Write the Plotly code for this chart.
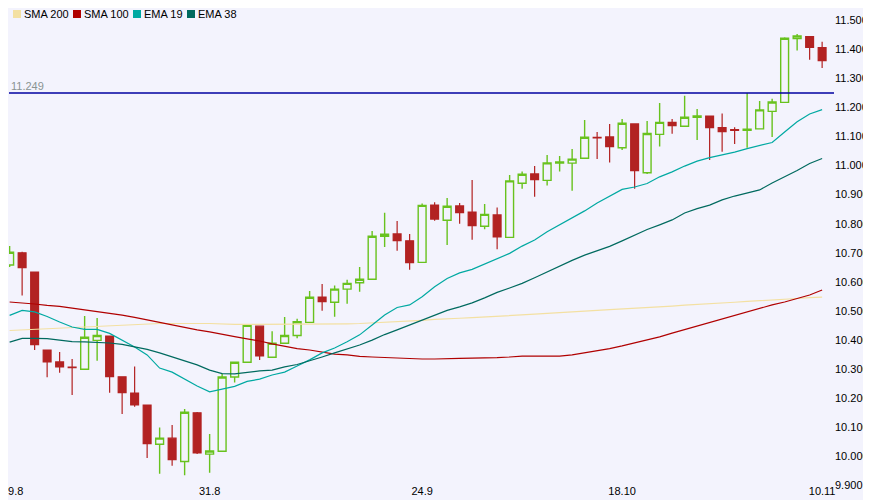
import plotly.graph_objects as go

# candle index -> date labels on the x axis
tick_idx = [0, 16, 33, 49, 65]
tick_labels = ["9.8", "31.8", "24.9", "18.10", "10.11"]

# OHLC, one value per trading day (66 candles)
opens = [10.658, 10.700, 10.634, 10.366, 10.325, 10.307, 10.300, 10.399, 10.414, 10.274,
         10.218, 10.177, 10.042, 10.063, 9.983, 10.150, 10.008, 10.018, 10.273, 10.324,
         10.448, 10.341, 10.389, 10.416, 10.461, 10.548, 10.530, 10.575, 10.597, 10.609,
         10.757, 10.765, 10.741, 10.667, 10.864, 10.812, 10.861, 10.840, 10.791, 10.830,
         10.753, 10.939, 10.971, 10.949, 11.008, 11.008, 11.025, 11.097, 11.098, 11.061,
         11.143, 10.975, 11.107, 11.148, 11.135, 11.166, 11.170, 11.130, 11.123, 11.121,
         11.126, 11.186, 11.217, 11.436, 11.443, 11.405]
highs = [10.723, 10.704, 10.634, 10.366, 10.359, 10.335, 10.483, 10.476, 10.414, 10.274,
         10.309, 10.177, 10.100, 10.108, 10.163, 10.153, 10.077, 10.284, 10.326, 10.452,
         10.448, 10.430, 10.479, 10.473, 10.569, 10.593, 10.588, 10.607, 10.651, 10.775,
         10.838, 10.809, 10.765, 10.869, 10.874, 10.888, 10.871, 10.950, 10.868, 10.856,
         10.967, 10.979, 10.998, 11.036, 11.033, 11.057, 11.156, 11.115, 11.143, 11.160,
         11.143, 11.153, 11.215, 11.160, 11.240, 11.194, 11.171, 11.179, 11.131, 11.249,
         11.222, 11.229, 11.441, 11.452, 11.443, 11.425]
lows = [10.651, 10.553, 10.366, 10.272, 10.288, 10.211, 10.300, 10.329, 10.219, 10.146,
        10.171, 9.995, 9.941, 9.968, 9.936, 10.009, 9.944, 10.018, 10.254, 10.323,
        10.332, 10.341, 10.389, 10.406, 10.461, 10.501, 10.480, 10.525, 10.566, 10.609,
        10.720, 10.707, 10.642, 10.667, 10.810, 10.727, 10.800, 10.745, 10.781, 10.712,
        10.753, 10.920, 10.893, 10.931, 10.979, 10.913, 11.025, 11.022, 11.010, 11.053,
        10.920, 10.971, 11.065, 11.109, 11.135, 11.088, 11.019, 11.047, 11.074, 11.061,
        11.126, 11.098, 11.217, 11.395, 11.363, 11.335]
closes = [10.702, 10.649, 10.384, 10.325, 10.308, 10.305, 10.410, 10.416, 10.274, 10.219,
          10.177, 10.044, 10.063, 9.989, 10.152, 10.012, 10.019, 10.273, 10.324, 10.451,
          10.346, 10.389, 10.416, 10.463, 10.547, 10.532, 10.575, 10.595, 10.609, 10.757,
          10.764, 10.742, 10.666, 10.863, 10.816, 10.860, 10.838, 10.793, 10.832, 10.755,
          10.947, 10.970, 10.951, 11.009, 11.012, 11.022, 11.097, 11.095, 11.065, 11.145,
          10.982, 11.110, 11.148, 11.137, 11.166, 11.170, 11.130, 11.116, 11.121, 11.125,
          11.191, 11.218, 11.437, 11.445, 11.406, 11.360]

# moving averages
sma200 = [10.433, 10.435, 10.438, 10.440, 10.442, 10.443, 10.445, 10.447, 10.449, 10.450,
          10.454, 10.455, 10.457, 10.457, 10.458, 10.457, 10.457, 10.455, 10.454, 10.454,
          10.454, 10.454, 10.454, 10.454, 10.455, 10.455, 10.455, 10.456, 10.457, 10.459,
          10.461, 10.462, 10.465, 10.468, 10.471, 10.474, 10.475, 10.477, 10.479, 10.482,
          10.484, 10.486, 10.489, 10.492, 10.494, 10.497, 10.499, 10.502, 10.505, 10.507,
          10.510, 10.512, 10.515, 10.517, 10.520, 10.522, 10.525, 10.528, 10.530, 10.533,
          10.535, 10.538, 10.541, 10.543, 10.546, 10.548]
sma100 = [10.531, 10.528, 10.524, 10.519, 10.516, 10.510, 10.504, 10.498, 10.493, 10.486,
          10.478, 10.469, 10.461, 10.452, 10.443, 10.435, 10.428, 10.421, 10.412, 10.404,
          10.397, 10.387, 10.378, 10.371, 10.366, 10.359, 10.352, 10.349, 10.344, 10.342,
          10.340, 10.337, 10.335, 10.335, 10.335, 10.335, 10.337, 10.338, 10.338, 10.340,
          10.342, 10.345, 10.345, 10.345, 10.345, 10.349, 10.356, 10.363, 10.371, 10.380,
          10.390, 10.400, 10.411, 10.424, 10.436, 10.449, 10.462, 10.474, 10.485, 10.497,
          10.509, 10.521, 10.531, 10.543, 10.555, 10.572]
ema19 = [10.485, 10.502, 10.497, 10.481, 10.462, 10.445, 10.437, 10.437, 10.423, 10.400,
         10.376, 10.349, 10.304, 10.290, 10.266, 10.242, 10.222, 10.231, 10.241, 10.258,
         10.266, 10.280, 10.290, 10.311, 10.332, 10.356, 10.373, 10.394, 10.418, 10.452,
         10.486, 10.512, 10.521, 10.549, 10.583, 10.612, 10.631, 10.643, 10.662, 10.679,
         10.698, 10.723, 10.744, 10.772, 10.796, 10.820, 10.844, 10.871, 10.895, 10.918,
         10.926, 10.938, 10.961, 10.978, 10.998, 11.015, 11.027, 11.036, 11.046, 11.058,
         11.069, 11.079, 11.115, 11.150, 11.177, 11.192]
ema38 = [10.393, 10.406, 10.406, 10.405, 10.400, 10.395, 10.394, 10.392, 10.390, 10.385,
         10.376, 10.368, 10.356, 10.342, 10.328, 10.315, 10.297, 10.285, 10.284, 10.290,
         10.294, 10.297, 10.308, 10.316, 10.328, 10.342, 10.356, 10.370, 10.383, 10.400,
         10.419, 10.435, 10.452, 10.469, 10.486, 10.502, 10.514, 10.528, 10.545, 10.564,
         10.579, 10.595, 10.614, 10.634, 10.656, 10.674, 10.692, 10.706, 10.722, 10.741,
         10.761, 10.780, 10.796, 10.813, 10.837, 10.852, 10.864, 10.882, 10.895, 10.906,
         10.916, 10.940, 10.961, 10.983, 11.007, 11.024]

resistance = 11.249

bg = "#F3F3FD"
green = "#68C21E"
red = "#B22222"
font = "Liberation Sans, Arial, sans-serif"

x = list(range(len(opens)))

fig = go.Figure()

fig.add_trace(go.Candlestick(
    x=x, open=opens, high=highs, low=lows, close=closes,
    increasing=dict(line=dict(color=green, width=1.4), fillcolor="rgba(0,0,0,0)"),
    decreasing=dict(line=dict(color=red, width=1.2), fillcolor=red),
    whiskerwidth=0, showlegend=False, hoverinfo="skip",
))

ma_names = ["SMA 200", "SMA 100", "EMA 19", "EMA 38"]
ma_values = [sma200, sma100, ema19, ema38]
ma_colors = ["#F3E0A2", "#B00000", "#00A9A2", "#006A5F"]

for name, vals, col in zip(ma_names, ma_values, ma_colors):
    fig.add_trace(go.Scatter(x=x, y=vals, mode="lines", name=name,
                             line=dict(color=col, width=1.2), showlegend=False))

# horizontal level line + its label
fig.add_shape(type="line", xref="paper", x0=0, x1=1, yref="y",
              y0=resistance, y1=resistance, line=dict(color="#0000A0", width=1.5))
fig.add_annotation(xref="paper", x=0, yref="y", y=resistance, text=f"{resistance:.3f}",
                   showarrow=False, xanchor="left", yanchor="bottom", yshift=-1,
                   font=dict(family=font, size=11, color="#8A9393"))

# legend drawn as swatches + labels along the top (page body adds an 8px offset)
legend_x = [4, 64, 124, 178]
for name, col, px in zip(ma_names, ma_colors, legend_x):
    fig.add_shape(type="rect", xref="paper", yref="paper", xsizemode="pixel", ysizemode="pixel",
                  xanchor=0, yanchor=1, x0=px, x1=px + 8, y0=-2, y1=-10,
                  fillcolor=col, line=dict(width=0))
    fig.add_annotation(xref="paper", yref="paper", x=0, y=1, xshift=px + 9, yshift=-6,
                       text=name, showarrow=False, xanchor="left", yanchor="middle",
                       font=dict(family=font, size=11, color="#000000"))

# first date label sits flush with the left edge, as in the source chart
shown_labels = ["\u00a0" * 4 + tick_labels[0]] + tick_labels[1:]

fig.update_layout(
    width=863, height=492,
    margin=dict(l=1, r=37, t=0, b=13),
    paper_bgcolor=bg, plot_bgcolor=bg,
    font=dict(family=font, size=11, color="#000000"),
    showlegend=False,
    boxgap=0.1,
    xaxis=dict(range=[-0.05, 65.95], tickvals=tick_idx, ticktext=shown_labels,
               showgrid=False, zeroline=False, showline=False, ticks="",
               rangeslider=dict(visible=False), automargin=False,
               ticklabelstandoff=-4, ticklabeloverflow="allow",
               tickfont=dict(family=font, size=11, color="#000000")),
    yaxis=dict(side="right", range=[9.8952, 11.5412], tick0=9.9, dtick=0.1,
               tickformat=".3f", showgrid=False, zeroline=False, showline=False,
               ticks="", automargin=False,
               tickfont=dict(family=font, size=11, color="#000000")),
)

fig.write_html("out.html")
